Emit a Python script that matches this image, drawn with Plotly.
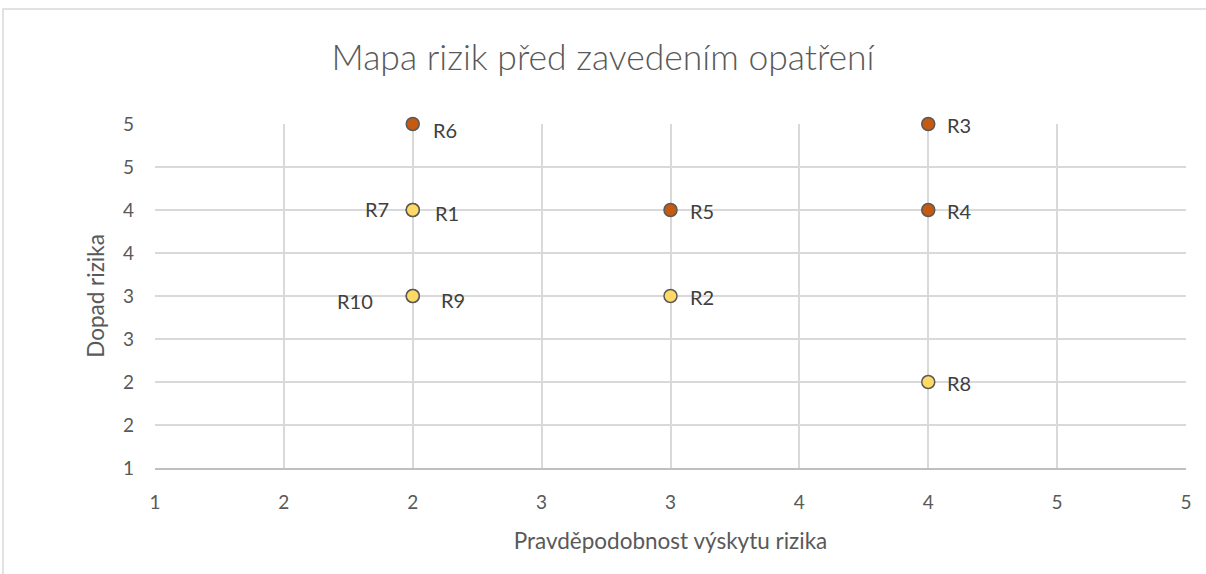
import plotly.graph_objects as go

# risk map data: probability (x), impact (y)
risks = ["R1", "R2", "R3", "R4", "R5", "R6", "R7", "R8", "R9", "R10"]
probability = [2, 3, 4, 4, 3, 2, 2, 4, 2, 2]
impact = [4, 3, 5, 4, 4, 5, 4, 2, 3, 3]
high_risk = [False, False, True, True, True, True, False, False, False, False]

# label placement (side, x shift px, y shift px)
label_side = {"R7": ("right", -22, 1), "R10": ("right", -38, -5),
              "R6": ("left", 18, -6), "R1": ("left", 20, -3),
              "R9": ("left", 26, -4)}

ORANGE = "#C55A11"
YELLOW = "#FFD966"
FONT = "Lato"

fig = go.Figure()
fig.add_trace(go.Scatter(
    x=probability, y=impact, mode="markers", cliponaxis=False,
    marker=dict(size=13, color=[ORANGE if h else YELLOW for h in high_risk],
                line=dict(color="#595959", width=1.5)),
    hovertext=risks, showlegend=False,
))

for name, px, py in zip(risks, probability, impact):
    side, dx, dy = label_side.get(name, ("left", 17, -1))
    fig.add_annotation(x=px, y=py, text=name, showarrow=False,
                       xanchor=side, xshift=dx, yshift=dy,
                       font=dict(family=FONT, size=20, color="#404040"))

axis_font = dict(family=FONT, size=19, color="#595959")
fig.update_xaxes(range=[1, 5], dtick=0.5, tick0=1, tickformat=".0f",
                 showgrid=True, gridcolor="#D9D9D9", gridwidth=1.5,
                 showline=True, linecolor="#BFBFBF", linewidth=1.5,
                 zeroline=False, ticks="", tickfont=axis_font, ticklabelstandoff=16,
                 automargin=False,
                 title=dict(text="Pravděpodobnost výskytu rizika",
                            font=dict(family=FONT, size=22.5, color="#595959"),
                            standoff=22))
fig.update_yaxes(range=[1, 5], dtick=0.5, tick0=1, tickformat=".0f",
                 showgrid=True, gridcolor="#D9D9D9", gridwidth=1.5,
                 showline=False, zeroline=False, ticks="", tickfont=axis_font,
                 ticklabelstandoff=20, automargin=False,
                 title=dict(text="Dopad rizika",
                            font=dict(family=FONT, size=22.5, color="#595959"),
                            standoff=12))

fig.update_layout(
    width=1206, height=574,
    margin=dict(l=155, r=20, t=124, b=106),
    paper_bgcolor="white", plot_bgcolor="white",
    title=dict(text="Mapa rizik před zavedením opatření", x=0.5, xanchor="center",
               y=1 - 58 / 574, yanchor="middle",
               font=dict(family=FONT, size=35.5, color="#595959", weight=300),
               automargin=False),
)

# chart border
fig.add_shape(type="rect", xref="paper", yref="paper",
              x0=-152 / 1031, x1=1.05, y0=-0.5, y1=1 + 115 / 344,
              line=dict(color="#D9D9D9", width=1.5), layer="below")

# drop the browser's default page margin so the figure sits at (0, 0)
fig.write_html("out.html", config={"displayModeBar": False},
               post_script="document.body.style.margin = '0';")
